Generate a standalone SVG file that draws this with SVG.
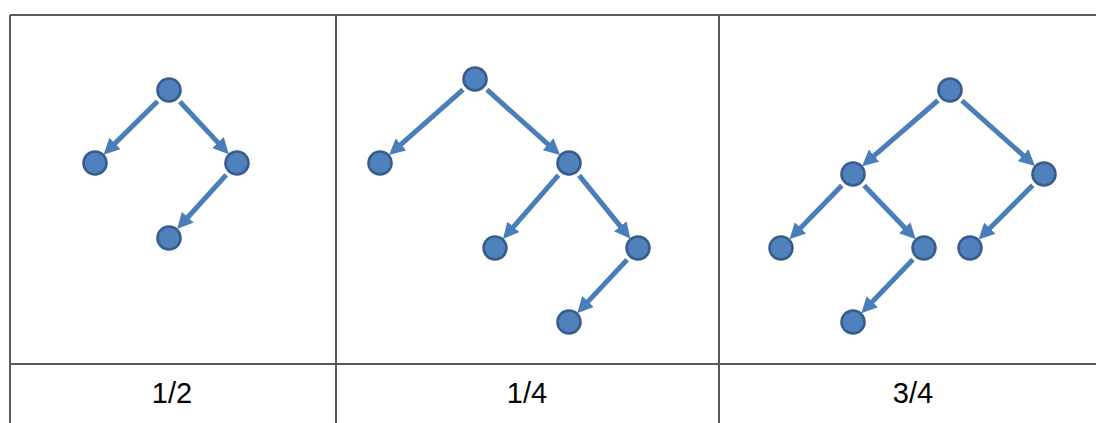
<svg xmlns="http://www.w3.org/2000/svg" width="1096" height="423" viewBox="0 0 1096 423">
<defs>
<style>
.grid{stroke:#595959;stroke-width:2;fill:none}
.node{fill:#4f81bd;stroke:#385d8a;stroke-width:2.6}
.edge{stroke:#4a7ebb;stroke-width:5;fill:none;marker-end:url(#ah)}
.lbl{font-family:"Liberation Sans",Arial,sans-serif;font-size:29px;fill:#000;text-anchor:middle}
</style>
<marker id="ah" markerUnits="userSpaceOnUse" markerWidth="17" markerHeight="17" refX="6" refY="8" orient="auto">
<path d="M0,0 L16,8 L0,16 Z" fill="#4a7ebb"/>
</marker>
</defs>
<rect width="1096" height="423" fill="#fff"/>
<g id="table">
<line class="grid" x1="10" y1="15" x2="1096" y2="15"/>
<line class="grid" x1="10" y1="364" x2="1096" y2="364"/>
<line class="grid" x1="10" y1="15" x2="10" y2="423"/>
<line class="grid" x1="336" y1="15" x2="336" y2="423"/>
<line class="grid" x1="719" y1="15" x2="719" y2="423"/>
</g>
<g id="connectors">
<line class="edge" x1="157.6" y1="101.2" x2="110.7" y2="147.6"/>
<line class="edge" x1="179.9" y1="101.7" x2="222.0" y2="146.9"/>
<line class="edge" x1="226.2" y1="174.9" x2="183.8" y2="221.7"/>
<line class="edge" x1="463.0" y1="89.6" x2="396.5" y2="148.4"/>
<line class="edge" x1="486.9" y1="89.7" x2="552.6" y2="148.3"/>
<line class="edge" x1="558.5" y1="175.1" x2="509.5" y2="231.4"/>
<line class="edge" x1="579.1" y1="175.4" x2="624.1" y2="230.9"/>
<line class="edge" x1="627.1" y1="259.7" x2="584.0" y2="305.9"/>
<line class="edge" x1="937.9" y1="100.5" x2="869.6" y2="159.6"/>
<line class="edge" x1="961.9" y1="100.7" x2="1027.6" y2="159.3"/>
<line class="edge" x1="841.8" y1="185.5" x2="796.4" y2="232.2"/>
<line class="edge" x1="864.1" y1="185.5" x2="908.8" y2="232.1"/>
<line class="edge" x1="1032.7" y1="185.3" x2="985.6" y2="232.4"/>
<line class="edge" x1="912.9" y1="259.5" x2="868.2" y2="306.1"/>
</g>
<g id="p1-root"><circle class="node" cx="169" cy="90" r="11.5"/></g>
<g id="p1-left"><circle class="node" cx="95" cy="163" r="11.5"/></g>
<g id="p1-right"><circle class="node" cx="237" cy="163" r="11.5"/></g>
<g id="p1-rl"><circle class="node" cx="169" cy="238" r="11.5"/></g>
<g id="p2-root"><circle class="node" cx="475" cy="79" r="11.5"/></g>
<g id="p2-left"><circle class="node" cx="380" cy="163" r="11.5"/></g>
<g id="p2-right"><circle class="node" cx="569" cy="163" r="11.5"/></g>
<g id="p2-rl"><circle class="node" cx="495" cy="248" r="11.5"/></g>
<g id="p2-rr"><circle class="node" cx="638" cy="248" r="11.5"/></g>
<g id="p2-rrl"><circle class="node" cx="569" cy="322" r="11.5"/></g>
<g id="p3-root"><circle class="node" cx="950" cy="90" r="11.5"/></g>
<g id="p3-left"><circle class="node" cx="853" cy="174" r="11.5"/></g>
<g id="p3-right"><circle class="node" cx="1044" cy="174" r="11.5"/></g>
<g id="p3-ll"><circle class="node" cx="781" cy="248" r="11.5"/></g>
<g id="p3-lr"><circle class="node" cx="924" cy="248" r="11.5"/></g>
<g id="p3-rl"><circle class="node" cx="970" cy="248" r="11.5"/></g>
<g id="p3-lrl"><circle class="node" cx="853" cy="322" r="11.5"/></g>
<g id="labels">
<text class="lbl" x="172" y="403">1/2</text>
<text class="lbl" x="527" y="403">1/4</text>
<text class="lbl" x="913" y="403">3/4</text>
</g>
</svg>
